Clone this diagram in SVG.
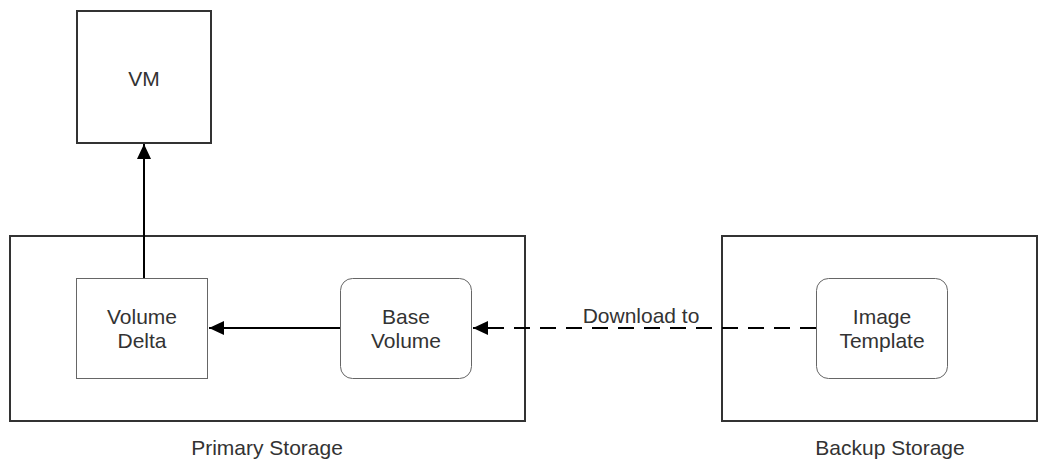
<svg xmlns="http://www.w3.org/2000/svg" width="1039" height="459" viewBox="0 0 1039 459">
  <style>
    .container { fill: #ffffff; stroke: #333333; stroke-width: 2; }
    .inner { fill: #ffffff; stroke: #666666; stroke-width: 1; }
    .label { font-family: "Liberation Sans", Arial, sans-serif; font-size: 21px; fill: #333333; text-anchor: middle; }
    .link { fill: none; stroke: #000000; stroke-width: 2; }
    .dashed { stroke-dasharray: 16 10; }
  </style>
  <defs>
    <marker id="arrow" viewBox="0 0 15 14" refX="15" refY="7" markerWidth="15" markerHeight="14" markerUnits="userSpaceOnUse" orient="auto">
      <path d="M0,0 L15,7 L0,14 Z" fill="#000000"/>
    </marker>
  </defs>
  <rect width="1039" height="459" fill="#ffffff"/>

  <g id="primary-storage">
    <rect class="container" x="10" y="236" width="515" height="185"/>
    <text class="label" x="267" y="455">Primary Storage</text>
  </g>

  <g id="backup-storage">
    <rect class="container" x="722" y="236" width="315" height="185"/>
    <text class="label" x="890" y="455">Backup Storage</text>
  </g>

  <g id="vm">
    <rect class="container" x="77" y="11" width="134" height="132"/>
    <text class="label" x="144" y="86">VM</text>
  </g>

  <g id="volume-delta">
    <rect class="inner" x="76.5" y="278.5" width="131" height="100"/>
    <text class="label" x="142" y="324">Volume</text>
    <text class="label" x="142" y="348">Delta</text>
  </g>

  <g id="base-volume">
    <rect class="inner" x="340.5" y="278.5" width="131" height="100" rx="12" ry="12"/>
    <text class="label" x="406" y="324">Base</text>
    <text class="label" x="406" y="348">Volume</text>
  </g>

  <g id="image-template">
    <rect class="inner" x="816.5" y="278.5" width="131" height="100" rx="12" ry="12"/>
    <text class="label" x="882" y="324">Image</text>
    <text class="label" x="882" y="348">Template</text>
  </g>

  <g id="connectors">
    <path class="link" d="M144,278 L144,144" marker-end="url(#arrow)"/>
    <path class="link" d="M340,328 L209,328" marker-end="url(#arrow)"/>
    <path class="link dashed" d="M816,328 L473,328" marker-end="url(#arrow)"/>
    <text class="label" x="641" y="323">Download to</text>
  </g>
</svg>
